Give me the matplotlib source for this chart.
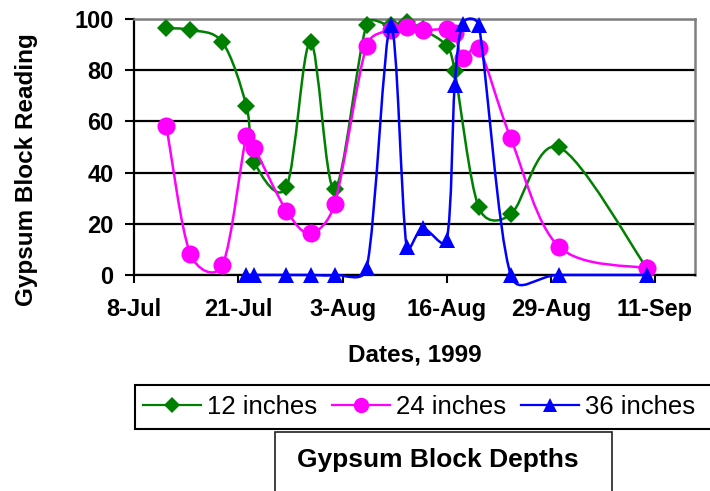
import numpy as np
import matplotlib
matplotlib.use("Agg")
import matplotlib.pyplot as plt
import matplotlib.dates as mdates
from matplotlib.path import Path
from matplotlib.patches import PathPatch, Rectangle
from matplotlib.lines import Line2D

plt.rcParams['font.family'] = ['Liberation Sans', 'DejaVu Sans']

# ---------------------------------------------------------------- DATOS
fechas_12 = ['1999-07-12', '1999-07-15', '1999-07-19', '1999-07-22', '1999-07-23',
             '1999-07-27', '1999-07-30', '1999-08-02', '1999-08-06', '1999-08-09',
             '1999-08-11', '1999-08-13', '1999-08-16', '1999-08-17', '1999-08-20',
             '1999-08-24', '1999-08-30', '1999-09-10']
valores_12 = [96.4, 95.7, 90.9, 66.0, 44.0, 34.5, 91.0, 33.5, 97.7, 97.5,
              99.0, 96.0, 89.5, 79.7, 26.4, 23.7, 49.9, 2.6]

fechas_24 = ['1999-07-12', '1999-07-15', '1999-07-19', '1999-07-22', '1999-07-23',
             '1999-07-27', '1999-07-30', '1999-08-02', '1999-08-06', '1999-08-09',
             '1999-08-11', '1999-08-13', '1999-08-16', '1999-08-17', '1999-08-18',
             '1999-08-20', '1999-08-24', '1999-08-30', '1999-09-10']
valores_24 = [58.2, 8.1, 3.9, 54.3, 49.6, 25.1, 16.3, 27.7, 89.6, 95.8,
              97.0, 95.7, 96.0, 94.4, 84.6, 88.7, 53.4, 11.1, 2.6]

fechas_36 = ['1999-07-22', '1999-07-23', '1999-07-27', '1999-07-30', '1999-08-02',
             '1999-08-06', '1999-08-09', '1999-08-11', '1999-08-13', '1999-08-16',
             '1999-08-17', '1999-08-18', '1999-08-20', '1999-08-24', '1999-08-30',
             '1999-09-10']
valores_36 = [0, 0, 0, 0, 0, 2.6, 97.5, 11.0, 18.2, 13.7,
              74.2, 98.2, 97.6, 0, 0, 0]

series = [
    ('12 inches', fechas_12, valores_12, '#008000', 'D', 9.0),
    ('24 inches', fechas_24, valores_24, '#FF00FF', 'o', 13.0),
    ('36 inches', fechas_36, valores_36, '#0000FF', '^', 12.0),
]

ticks_x = ['1999-07-08', '1999-07-21', '1999-08-03', '1999-08-16', '1999-08-29', '1999-09-11']
x_ini, x_fin = '1999-07-08', '1999-09-16'


def a_num(fechas):
    return mdates.date2num(np.array(fechas, dtype='datetime64[D]'))


# Curva suavizada tipo Excel (Bezier con puntos de control de los vecinos)
def suavizado(ax, xs, ys):
    pts = ax.transData.transform(np.column_stack([xs, ys]))
    n = len(pts)
    verts = [pts[0]]
    codes = [Path.MOVETO]
    for i in range(n - 1):
        p0 = pts[i - 1] if i > 0 else pts[i]
        p1 = pts[i]
        p2 = pts[i + 1]
        p3 = pts[i + 2] if i + 2 < n else pts[i + 1]
        d12 = np.linalg.norm(p2 - p1)
        v1 = (p2 - p0) / 6.0
        v2 = (p3 - p1) / 6.0
        if np.linalg.norm(v1) > d12 / 2:
            v1 = v1 * (d12 / 2) / np.linalg.norm(v1)
        if np.linalg.norm(v2) > d12 / 2:
            v2 = v2 * (d12 / 2) / np.linalg.norm(v2)
        verts += [p1 + v1, p2 - v2, p2]
        codes += [Path.CURVE4] * 3
    verts = ax.transData.inverted().transform(np.array(verts))
    return Path(verts, codes)


# ---------------------------------------------------------------- GRAFICA
W, H = 710, 491
fig = plt.figure(figsize=(W / 100, H / 100), dpi=100)
izq, der, arr, aba = 134.3, 695, 19, 275
ax = fig.add_axes([izq / W, 1 - aba / H, (der - izq) / W, (aba - arr) / H])

ax.set_xlim(a_num([x_ini])[0], a_num([x_fin])[0])
ax.set_ylim(0, 100)
ax.set_xticks(a_num(ticks_x))
ax.xaxis.set_major_formatter(mdates.DateFormatter('%-d-%b'))
ax.set_yticks(np.arange(0, 101, 20))

ax.set_axisbelow(True)
ax.yaxis.grid(True, color='black', lw=1.6)
for s in ['left', 'bottom']:
    ax.spines[s].set_color('black')
    ax.spines[s].set_linewidth(1.6)
for s in ['top', 'right']:
    ax.spines[s].set_color('#808080')
    ax.spines[s].set_linewidth(1.8)

ax.tick_params(axis='y', direction='out', length=6.5, width=1.5, pad=8.5, labelsize=17)
ax.tick_params(axis='x', direction='out', length=6, width=1.5, pad=10.5, labelsize=17)
for lab in ax.get_xticklabels() + ax.get_yticklabels():
    lab.set_fontweight('bold')

z = 3
handles = []
for nombre, fechas, valores, color, marca, tam in series:
    xs = a_num(fechas)
    camino = suavizado(ax, xs, valores)
    ax.add_patch(PathPatch(camino, facecolor='none', edgecolor=color, lw=1.8,
                           zorder=z, clip_on=False))
    ax.plot(xs, valores, linestyle='none', marker=marca, markersize=tam, color=color,
            markeredgewidth=0, zorder=z, clip_on=False)
    handles.append(Line2D([], [], color=color, lw=1.6, marker=marca,
                          markersize=tam * 0.85, markeredgewidth=0, label=nombre))
    z += 1

ax.set_ylabel('Gypsum Block Reading', fontsize=17.5, fontweight='bold', va='center')
ax.yaxis.set_label_coords((27 - izq) / (der - izq), (aba - 170) / (aba - arr))
ax.set_xlabel('Dates, 1999', fontsize=17.5, fontweight='bold', va='center')
ax.xaxis.set_label_coords(0.5, (aba - 355) / (aba - arr))

# Leyenda
fig.patches.append(Rectangle((134.7 / W, 1 - 429 / H), (720 - 134.7) / W, 44 / H,
                             transform=fig.transFigure, facecolor='white',
                             edgecolor='black', lw=1.5))
fig.legend(handles=handles, loc='center left', bbox_to_anchor=(143 / W, 1 - 407 / H),
           ncol=3, frameon=False, fontsize=18.5, handlelength=2.26, handletextpad=0.23,
           columnspacing=0.58, borderpad=0, borderaxespad=0)

fig.patches.append(Rectangle((275 / W, -0.02), (612 - 275) / W, (491 - 432) / H + 0.02,
                             transform=fig.transFigure, facecolor='white',
                             edgecolor='#202020', lw=1.2))
fig.text(438 / W, 1 - 460 / H, 'Gypsum Block Depths', ha='center', va='center',
         fontsize=19, fontweight='bold')

fig.savefig('out.png', dpi=100)
